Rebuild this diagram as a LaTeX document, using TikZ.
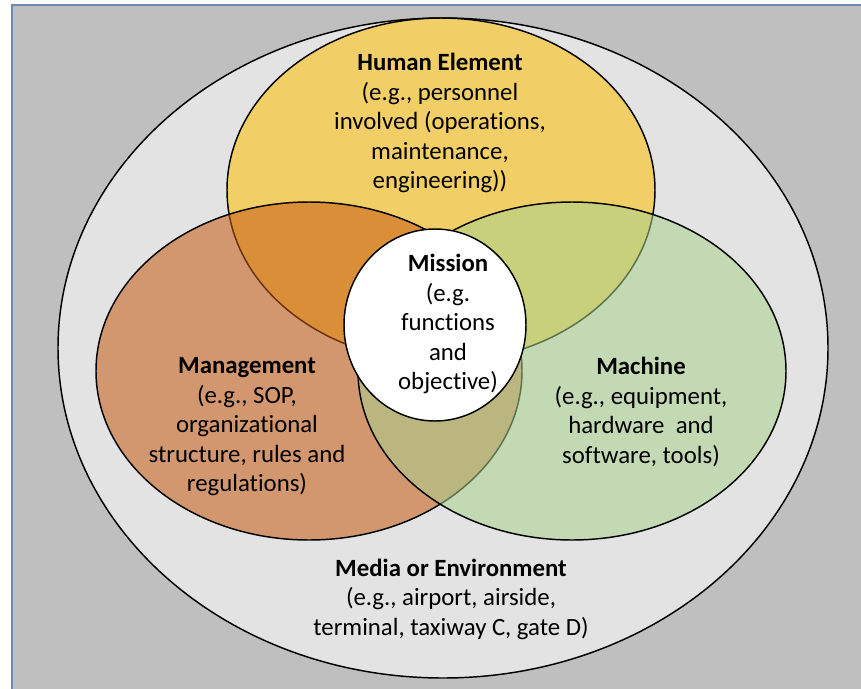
\documentclass[tikz,border=0pt]{standalone}
\usepackage{fontspec}
\setmainfont{Carlito}[Ligatures=NoCommon]
\definecolor{frameBlue}{RGB}{106,138,178}
\definecolor{paneGray}{RGB}{191,191,191}
\definecolor{envGray}{RGB}{227,227,227}
\definecolor{humanGold}{RGB}{255,192,0}
\definecolor{mgmtOrange}{RGB}{197,90,17}
\definecolor{machGreen}{RGB}{169,209,142}

\begin{document}
\begin{tikzpicture}[
    x=0.75pt, y=0.75pt,
    font=\fontsize{18.6}{22.1}\selectfont,
    ring/.style={draw=black, line width=1.1pt},
    blob/.style={ring, fill opacity=0.55},
    vennText/.style={align=center, inner sep=0pt}
]
    \useasboundingbox (0,0) rectangle (861,-689);
    \clip (0,0) rectangle (861,-689);
    \fill[paneGray] (12,-5) rectangle (880,-710);
    \draw[frameBlue, line width=1.5pt] (12,-710) -- (12,-5) -- (880,-5);

    \coordinate (media) at (443,-348);
    \coordinate (human) at (441,-190);
    \coordinate (mgmt) at (309,-371);
    \coordinate (mach) at (572,-371);
    \coordinate (mission) at (435,-325);

    % outer environment, then the three sets (later ones lie over earlier)
    \draw[ring, fill=envGray] (media) ellipse [x radius=385, y radius=330];
    \draw[blob, fill=humanGold] (human) ellipse [x radius=214, y radius=172];
    \draw[blob, fill=mgmtOrange] (mgmt) ellipse [x radius=213, y radius=169];
    \draw[blob, fill=machGreen] (mach) ellipse [x radius=214, y radius=169];
    \draw[ring, fill=white] (mission) ellipse [x radius=91, y radius=96];

    \node[vennText] (humanTxt) at (440,-123) {\textbf{Human Element}\\(e.g., personnel\\involved (operations,\\maintenance,\\engineering))};
    \node[vennText] (missionTxt) at (448,-324) {\textbf{Mission}\\(e.g.\\functions\\and\\objective)};
    \node[vennText] (mgmtTxt) at (247,-427) {\textbf{Management}\\(e.g., SOP,\\organizational\\structure, rules and\\regulations)};
    \node[vennText] (machTxt) at (641,-412) {\textbf{Machine}\\(e.g., equipment,\\hardware\ \ and\\software, tools)};
    \node[vennText] (mediaTxt) at (451,-599) {\textbf{Media or Environment}\\(e.g., airport, airside,\\terminal, taxiway C, gate D)};
\end{tikzpicture}
\end{document}
